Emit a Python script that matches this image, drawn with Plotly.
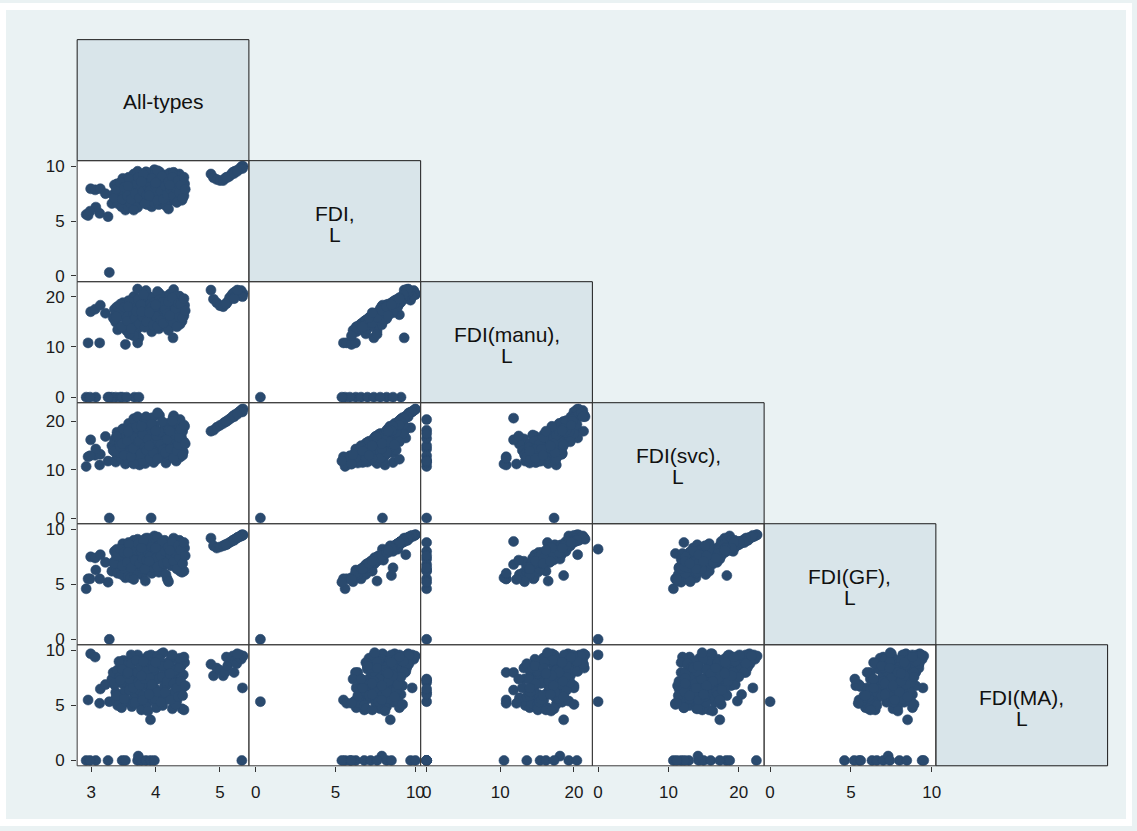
import plotly.graph_objects as go

# Six series, one entry per observation (same order in every list)
all_types = [
    2.92, 2.95, 3.13, 2.99, 3.06, 3.14, 3.07, 3.22, 2.98,
    3.28,
    3.32, 3.38, 3.45, 3.48, 3.67, 3.74, 3.55, 3.26,
    3.93,
    3.72, 3.78, 3.73, 3.85, 3.92, 3.98, 5.34, 3.53,
    4.86, 4.90, 4.95, 5.00, 5.05, 5.08, 5.12, 5.15, 5.18, 5.20,
    5.23, 5.26, 5.29, 5.31, 5.33, 5.36, 5.35, 5.10, 5.22, 5.27,
    3.34, 3.36, 3.38, 3.40, 3.41, 3.44, 3.46, 3.47, 3.49, 3.50,
    3.52, 3.54, 3.55, 3.57, 3.58, 3.60, 3.61, 3.63, 3.64, 3.66,
    3.67, 3.69, 3.70, 3.71, 3.72, 3.74, 3.75, 3.76, 3.78, 3.79,
    3.80, 3.82, 3.83, 3.84, 3.86, 3.87, 3.88, 3.89, 3.90, 3.92,
    3.93, 3.94, 3.95, 3.96, 3.97, 3.98, 4.00, 4.01, 4.02, 4.04,
    4.05, 4.06, 4.07, 4.09, 4.10, 4.11, 4.13, 4.14, 4.15, 4.17,
    4.18, 4.19, 4.21, 4.22, 4.24, 4.25, 4.26, 4.28, 4.29, 4.30,
    4.32, 4.33, 4.34, 4.36, 4.37, 4.38, 4.40, 4.41, 4.42, 4.43,
    4.44, 4.45, 4.38, 4.03, 3.85, 3.62, 4.16, 3.53, 3.43, 3.72,
    3.80, 4.12, 4.20, 4.31, 3.66, 4.27, 3.59,
    3.36, 3.39, 3.45, 3.48, 3.51, 3.56, 3.59, 3.62, 3.65, 3.68,
    3.70, 3.73, 3.75, 3.77, 3.80, 3.81, 3.83, 3.86, 3.88, 3.91,
    3.94, 3.96, 3.99, 4.01, 4.03, 4.06, 4.08, 4.10, 4.12, 4.15,
    4.18, 4.20, 4.23, 4.26, 4.28, 4.31, 4.33, 4.35, 4.37, 4.39,
    4.42, 4.44, 4.46, 3.57, 3.78, 4.00, 4.22, 3.90,
]

fdi = [
    5.6, 5.5, 5.7, 7.95, 7.85, 7.95, 6.27, 7.5, 5.9,
    0.3,
    6.6, 7.0, 7.4, 8.2, 9.1, 7.8, 8.6, 5.4,
    7.94,
    6.8, 7.2, 7.9, 7.6, 8.5, 9.7, 10.0, 6.0,
    9.3, 8.95, 8.8, 8.7, 8.7, 8.9, 9.0, 9.1, 9.3, 9.45,
    9.55, 9.6, 9.7, 9.8, 9.9, 10.0, 9.8, 9.0, 9.35, 9.55,
    7.4, 8.3, 7.0, 8.4, 6.6, 7.8, 8.0, 6.3, 8.9, 7.2,
    6.9, 8.6, 7.6, 6.2, 9.0, 7.9, 6.6, 8.2, 7.3, 9.3,
    6.9, 8.7, 7.7, 6.4, 9.55, 7.4, 8.1, 8.9, 6.8, 7.9,
    8.5, 7.2, 9.1, 7.6, 8.3, 6.5, 9.4, 7.0, 8.8, 8.43,
    7.5, 6.3, 9.2, 8.0, 6.7, 8.6, 7.8, 9.0, 7.1, 8.2,
    6.5, 9.5, 7.4, 8.7, 7.9, 6.8, 8.4, 9.2, 7.3, 8.0,
    6.6, 8.8, 7.6, 9.4, 7.0, 8.5, 7.8, 9.45, 6.9, 8.3,
    7.5, 8.9, 7.2, 8.6, 9.3, 7.0, 8.1, 6.9, 8.8, 7.7,
    7.3, 8.4, 9.1, 9.6, 9.5, 8.5, 6.4, 7.5, 7.7, 6.25,
    6.9, 7.45, 6.1, 9.2, 6.0, 9.3, 7.6,
    7.1, 7.9, 8.5, 7.0, 8.1, 7.3, 8.8, 7.0, 8.0, 7.5,
    8.4, 9.0, 7.1, 8.2, 7.7, 9.25, 6.6, 7.4, 8.1, 7.8,
    8.9, 7.2, 8.3, 7.6, 6.9, 8.8, 7.7, 9.1, 7.0, 8.2,
    7.4, 8.6, 7.9, 9.0, 7.3, 8.0, 6.7, 8.7, 7.6, 8.3,
    7.1, 9.0, 7.9, 8.2, 8.6, 8.5, 8.3, 7.3,
]

fdi_manu = [
    0, 10.8, 10.8, 17.0, 17.5, 18.3, 0, 16.7, 0,
    0,
    0, 0, 0, 0, 0, 0, 0, 0,
    17.3,
    13.6, 15.4, 18.1, 16.2, 17.3, 19.3, 20.4, 10.5,
    21.3, 19.5, 18.8, 18.2, 18.0, 18.5, 19.0, 19.8, 20.2, 20.6,
    20.9, 20.5, 21.0, 20.8, 21.2, 20.6, 20.0, 18.6, 19.6, 21.3,
    15.8, 17.5, 14.9, 18.0, 13.4, 16.4, 17.2, 14.0, 18.8, 15.9,
    13.8, 18.4, 13.2, 13.4, 19.2, 17.0, 14.6, 15.6, 16.1, 20.0,
    12.6, 17.9, 16.9, 14.1, 21.5, 11.8, 17.6, 19.0, 15.1, 14.7,
    18.6, 15.6, 19.6, 16.5, 18.1, 14.2, 20.2, 15.4, 17.4, 18.6,
    16.5, 13.0, 19.9, 15.2, 14.8, 18.9, 17.1, 16.4, 15.8, 18.2,
    13.6, 20.6, 16.3, 19.2, 14.4, 15.0, 17.7, 20.0, 14.9, 17.5,
    14.5, 18.3, 16.7, 20.5, 15.2, 17.0, 17.3, 21.4, 15.3, 18.0,
    15.5, 19.3, 16.0, 16.8, 20.1, 14.5, 17.8, 15.1, 18.7, 16.6,
    16.2, 18.3, 19.7, 21.0, 21.2, 18.7, 14.0, 16.6, 16.9, 10.8,
    15.3, 16.4, 13.3, 20.0, 12.2, 11.8, 12.5,
    15.5, 16.0, 18.5, 14.0, 17.9, 15.1, 19.0, 13.6, 16.8, 15.7,
    17.1, 19.5, 14.6, 18.4, 15.9, 20.4, 13.9, 15.0, 16.9, 17.6,
    18.0, 14.3, 18.0, 16.0, 14.1, 19.4, 15.3, 18.9, 14.7, 17.4,
    16.6, 19.0, 15.6, 19.8, 14.8, 17.6, 14.0, 18.6, 15.9, 18.5,
    15.8, 19.6, 17.2, 18.0, 17.0, 18.4, 16.2, 16.8,
]

fdi_svc = [
    10.7, 12.7, 11.0, 16.2, 13.0, 13.2, 14.3, 16.9, 12.9,
    0,
    15.0, 12.0, 16.5, 18.2, 20.4, 17.5, 11.5, 11.8,
    0,
    12.3, 15.0, 14.2, 16.0, 17.3, 18.7, 22.5, 11.2,
    18.0, 18.2, 18.8, 19.2, 19.6, 19.9, 20.2, 20.5, 20.8, 21.1,
    21.4, 21.6, 21.9, 22.1, 22.3, 22.6, 22.0, 20.0, 21.0, 21.5,
    14.0, 16.2, 11.6, 17.8, 13.0, 15.5, 12.8, 12.2, 18.5, 14.6,
    15.2, 13.5, 16.4, 11.8, 19.6, 17.4, 13.9, 15.0, 12.0, 20.6,
    15.3, 18.2, 13.6, 13.1, 21.0, 16.2, 11.0, 16.8, 14.8, 17.0,
    18.3, 13.4, 20.2, 11.3, 18.0, 12.6, 18.4, 15.7, 14.1, 17.3,
    16.0, 14.0, 20.8, 13.0, 11.5, 19.2, 15.0, 12.2, 14.4, 17.5,
    13.8, 21.3, 12.9, 16.0, 17.2, 15.0, 14.6, 18.9, 16.1, 12.0,
    12.8, 19.6, 15.6, 16.6, 13.3, 18.6, 14.0, 21.2, 15.5, 16.4,
    11.8, 19.8, 14.9, 17.8, 19.0, 12.6, 16.9, 14.2, 18.0, 13.7,
    15.8, 19.0, 20.4, 21.8, 21.0, 18.6, 11.4, 16.8, 13.6, 12.4,
    11.8, 14.8, 13.1, 17.5, 11.2, 20.7, 17.0,
    13.8, 16.9, 14.8, 15.4, 13.0, 16.0, 17.6, 12.7, 14.4, 16.6,
    18.8, 15.8, 15.9, 13.3, 17.3, 19.4, 14.7, 14.0, 16.3, 12.4,
    19.5, 13.5, 15.8, 17.0, 12.3, 17.9, 15.3, 20.0, 14.2, 13.6,
    16.3, 18.2, 14.3, 20.1, 12.4, 17.1, 13.9, 15.2, 16.7, 18.5,
    13.0, 19.3, 15.4, 18.0, 19.0, 18.1, 18.0, 15.0,
]

fdi_gf = [
    4.6, 5.5, 5.5, 7.5, 7.4, 7.7, 6.3, 7.0, 5.5,
    0,
    6.2, 6.8, 7.3, 8.0, 8.8, 7.6, 6.5, 5.2,
    8.2,
    6.6, 7.0, 7.3, 7.4, 8.45, 9.4, 9.5, 5.6,
    9.2, 8.5, 8.3, 8.4, 8.5, 8.6, 8.7, 8.8, 8.9, 9.0,
    9.1, 9.2, 9.3, 9.35, 9.4, 9.5, 9.45, 8.6, 9.0, 9.25,
    7.0, 8.0, 6.6, 8.2, 6.0, 7.5, 7.2, 5.9, 8.7, 6.9,
    6.4, 8.3, 7.1, 5.7, 8.8, 7.6, 5.6, 7.9, 7.0, 9.0,
    5.9, 8.5, 7.4, 6.2, 9.1, 6.8, 7.8, 8.2, 6.5, 7.7,
    5.8, 7.0, 8.9, 5.3, 8.1, 6.3, 9.2, 6.7, 8.6, 8.5,
    7.3, 6.0, 8.8, 7.9, 6.5, 8.0, 7.6, 8.8, 6.8, 8.0,
    6.1, 9.0, 7.2, 8.4, 7.4, 6.6, 8.2, 9.0, 7.1, 7.8,
    5.5, 8.6, 7.5, 7.7, 6.7, 8.3, 7.6, 9.2, 6.8, 7.9,
    7.3, 8.7, 7.1, 8.4, 9.0, 6.2, 8.0, 6.1, 8.5, 7.5,
    6.2, 8.3, 8.9, 9.3, 9.2, 8.3, 5.9, 7.3, 7.4, 6.0,
    6.4, 7.43, 5.24, 8.9, 5.45, 8.9, 7.2,
    6.9, 7.6, 8.2, 6.7, 7.9, 7.0, 8.6, 6.5, 7.7, 7.2,
    8.1, 8.7, 6.9, 8.0, 7.3, 9.0, 6.4, 7.2, 7.9, 7.5,
    8.4, 7.0, 8.2, 7.4, 6.6, 8.6, 7.6, 8.9, 6.9, 8.0,
    7.0, 8.4, 7.7, 8.8, 7.1, 7.8, 6.4, 8.5, 7.4, 8.1,
    6.9, 8.8, 7.6, 7.9, 8.3, 8.3, 8.1, 7.1,
]

fdi_ma = [
    0, 5.5, 5.2, 9.7, 9.4, 6.5, 0, 6.9, 0,
    5.35,
    7.4, 6.2, 7.1, 0, 6.0, 7.3, 6.5, 0,
    9.6,
    0, 0, 0.4, 0, 0, 0, 0, 0,
    8.75, 7.7, 8.4, 8.2, 7.7, 8.0, 8.6, 9.0, 9.3, 9.5,
    9.1, 8.8, 9.4, 9.6, 9.2, 9.5, 6.6, 9.4, 8.0, 9.7,
    8.0, 6.9, 5.6, 8.2, 5.0, 7.6, 8.6, 4.8, 7.0, 9.1,
    6.3, 5.3, 8.4, 5.4, 8.9, 7.3, 6.7, 4.9, 9.4, 8.1,
    5.7, 6.0, 7.8, 8.0, 9.6, 6.4, 5.1, 8.7, 4.6, 9.2,
    5.9, 7.6, 8.3, 6.8, 7.0, 5.2, 9.5, 8.5, 6.2, 3.7,
    7.9, 6.6, 9.0, 5.5, 7.2, 8.0, 6.5, 4.8, 9.3, 7.4,
    5.8, 8.6, 6.1, 9.7, 7.7, 5.0, 8.3, 6.8, 8.8, 5.7,
    6.9, 7.5, 9.0, 8.1, 6.0, 9.4, 4.7, 8.4, 7.3, 6.3,
    8.0, 5.4, 9.2, 7.1, 9.1, 6.4, 8.6, 4.7, 6.6, 7.8,
    4.6, 8.9, 9.3, 9.5, 8.8, 9.6, 5.9, 6.2, 9.0, 8.0,
    8.9, 9.8, 7.4, 5.1, 5.2, 8.0, 7.4,
    7.0, 5.9, 7.3, 8.3, 5.6, 7.9, 6.4, 8.8, 6.6, 5.3,
    9.1, 7.1, 6.9, 8.5, 5.5, 9.0, 7.4, 8.1, 4.5, 7.5,
    6.9, 8.4, 5.6, 8.9, 6.2, 9.2, 5.3, 7.6, 8.6, 6.2,
    7.2, 8.7, 5.5, 9.6, 7.0, 8.2, 6.6, 5.8, 8.4, 7.2,
    5.9, 9.4, 6.8, 8.0, 7.7, 8.9, 7.9, 6.0,
]

var_labels = [["All-types"], ["FDI,", "L"], ["FDI(manu),", "L"],
              ["FDI(svc),", "L"], ["FDI(GF),", "L"], ["FDI(MA),", "L"]]
tick_values = [[3, 4, 5], [0, 5, 10], [0, 10, 20], [0, 10, 20], [0, 5, 10], [0, 5, 10]]

series = [all_types, fdi, fdi_manu, fdi_svc, fdi_gf, fdi_ma]
n_obs = len(all_types)
for s in series:
    assert len(s) == n_obs, (len(s), n_obs)

# ---- page geometry (pixels) ----
W, H = 1137, 831
col_edges = [77.5, 250, 422.5, 595, 767.5, 940, 1112.5]
row_edges = [37, 159.2, 281.4, 403.6, 525.8, 648, 770.2]

x_ranges = [[2.78, 5.45], [-0.42, 10.33], [-0.81, 22.5], [-0.81, 23.6], [-0.37, 10.25]]
y_ranges = [None, [-0.55, 10.52], [-1.1, 22.97], [-1.18, 23.9], [-0.49, 10.51], [-0.48, 10.52]]

MARKER = "#2a4a6e"
OUTER = "#eaf2f3"
CELL = "#d9e5ea"
FONT = "Liberation Sans, Arial, sans-serif"

fig = go.Figure()

def xname(j):
    return "x" if j == 0 else f"x{j + 1}"

def yname(i):
    return "y" if i == 1 else f"y{i}"

for i in range(1, 6):
    for j in range(i):
        fig.add_trace(go.Scatter(
            x=series[j], y=series[i], mode="markers",
            marker=dict(size=10, color=MARKER, line=dict(width=0.6, color=MARKER)),
            xaxis=xname(j), yaxis=yname(i),
            showlegend=False, hoverinfo="skip", cliponaxis=True,
        ))

axis_common = dict(showgrid=False, zeroline=False, showline=False,
                   ticks="outside", ticklen=5, tickwidth=1, tickcolor="#333",
                   tickfont=dict(family=FONT, size=17, color="#1a1a1a"),
                   fixedrange=True)

layout = dict(
    width=W, height=H, margin=dict(l=0, r=0, t=0, b=0),
    paper_bgcolor=OUTER, plot_bgcolor="white", showlegend=False,
)

for j in range(5):
    key = "xaxis" if j == 0 else f"xaxis{j + 1}"
    layout[key] = dict(axis_common,
                       domain=[col_edges[j] / W, col_edges[j + 1] / W],
                       range=x_ranges[j], tickvals=tick_values[j],
                       anchor="y5", ticklabelstandoff=6)

for i in range(1, 6):
    key = "yaxis" if i == 1 else f"yaxis{i}"
    layout[key] = dict(axis_common,
                       domain=[1 - row_edges[i + 1] / H, 1 - row_edges[i] / H],
                       range=y_ranges[i], tickvals=tick_values[i],
                       anchor="x", ticklabelstandoff=3)

shapes = []
annotations = []
for k in range(6):
    x0, x1 = col_edges[k], col_edges[k + 1]
    y0, y1 = row_edges[k], row_edges[k + 1]
    shapes.append(dict(type="rect", xref="paper", yref="paper",
                       x0=x0 / W, x1=x1 / W, y0=1 - y1 / H, y1=1 - y0 / H,
                       fillcolor=CELL, line=dict(color="#1a1a1a", width=1),
                       layer="below"))
    cx = (x0 + x1) / 2
    cy = (y0 + y1) / 2
    lines = var_labels[k]
    offsets = [1] if len(lines) == 1 else [-8, 13]
    for text, off in zip(lines, offsets):
        annotations.append(dict(text=text, x=cx / W, y=1 - (cy + off) / H,
                                xref="paper", yref="paper", showarrow=False,
                                xanchor="center", yanchor="middle",
                                font=dict(family=FONT, size=21, color="#111")))

for i in range(1, 6):
    for j in range(i):
        x0, x1 = col_edges[j], col_edges[j + 1]
        y0, y1 = row_edges[i], row_edges[i + 1]
        shapes.append(dict(type="rect", xref="paper", yref="paper",
                           x0=x0 / W, x1=x1 / W, y0=1 - y1 / H, y1=1 - y0 / H,
                           fillcolor="rgba(0,0,0,0)",
                           line=dict(color="#3c3c3c", width=1), layer="above"))

# thin white page edge
for (a, b, c, d) in [(0, 6, 0, H), (W - 6, W, 0, H), (0, W, 0, 7), (0, W, H - 7, H)]:
    shapes.append(dict(type="rect", xref="paper", yref="paper",
                       x0=a / W, x1=b / W, y0=1 - d / H, y1=1 - c / H,
                       fillcolor="white", line=dict(width=0), layer="above"))

layout["shapes"] = shapes
layout["annotations"] = annotations
fig.update_layout(**layout)
fig.write_html("out.html")
